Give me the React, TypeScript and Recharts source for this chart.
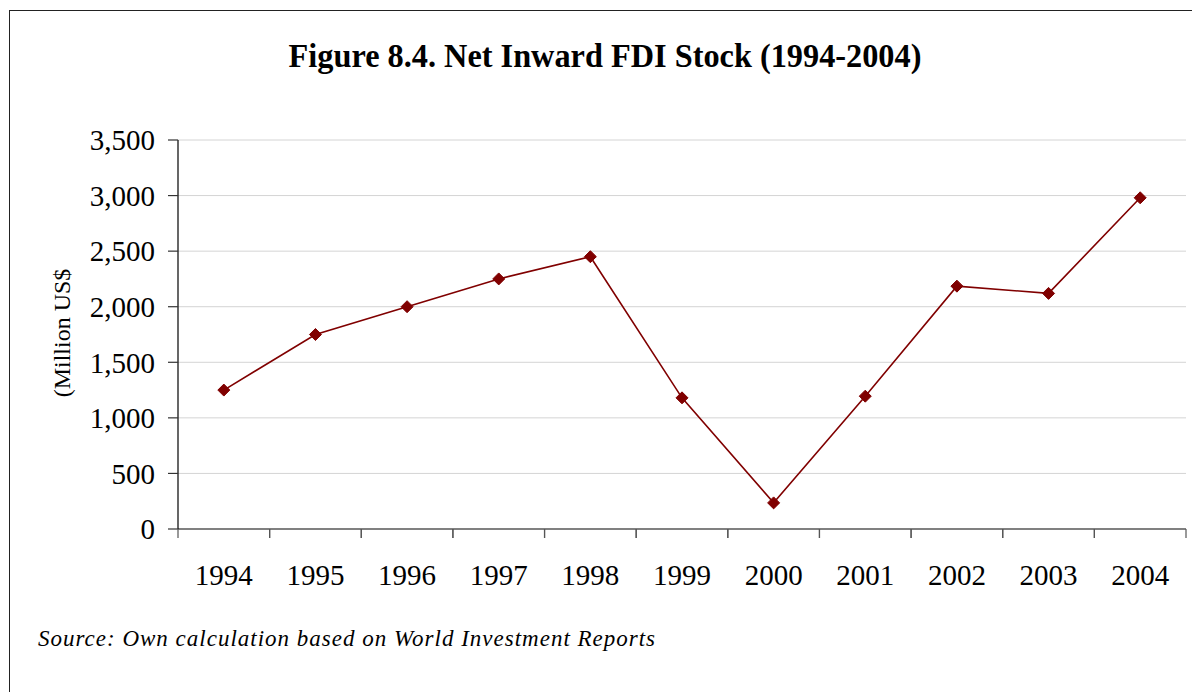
import { LineChart, Line, XAxis, YAxis, CartesianGrid } from "recharts";

const years = ["1994", "1995", "1996", "1997", "1998", "1999", "2000", "2001", "2002", "2003", "2004"];
const fdiStock = [1250, 1750, 2000, 2250, 2450, 1180, 235, 1195, 2185, 2120, 2980];
const yTicks = [0, 500, 1000, 1500, 2000, 2500, 3000, 3500];

const data = years.map((year, i) => ({ year, value: fdiStock[i] }));

const W = 1192;
const H = 692;
const PLOT_LEFT = 178;
const PLOT_RIGHT = 1186;
const PLOT_TOP = 140;
const PLOT_BOTTOM = 529;
const halfBand = (PLOT_RIGHT - PLOT_LEFT) / years.length / 2;

const serif = "'Liberation Serif', 'Times New Roman', serif";
const red = "#800000";

function Diamond(props: any) {
  const { cx, cy, index } = props;
  if (cx == null || cy == null) return null;
  const s = 6;
  return (
    <path
      key={index}
      d={`M${cx},${cy - s} L${cx + s},${cy} L${cx},${cy + s} L${cx - s},${cy} Z`}
      fill={red}
      stroke={red}
    />
  );
}

function XTick(props: any) {
  const { x, y, payload } = props;
  return (
    <g>
      <line x1={x - halfBand} x2={x - halfBand} y1={y} y2={y + 9} stroke="#555" strokeWidth={1.2} />
      <line x1={x + halfBand} x2={x + halfBand} y1={y} y2={y + 9} stroke="#555" strokeWidth={1.2} />
      <text x={x} y={y + 56} textAnchor="middle" fontFamily={serif} fontSize={29} fill="#000">
        {payload.value}
      </text>
    </g>
  );
}

export default function App() {
  return (
    <div
      style={{
        position: "absolute",
        left: 0,
        top: 0,
        width: W,
        height: H,
        overflow: "hidden",
        background: "#fff",
      }}
    >
      <div
        style={{
          position: "absolute",
          left: 9,
          top: 10,
          width: W + 20,
          height: H + 20,
          border: "1.5px solid #222",
        }}
      />
      <div
        style={{
          position: "absolute",
          left: 0,
          width: W + 18,
          top: 37,
          textAlign: "center",
          fontFamily: serif,
          fontWeight: "bold",
          fontSize: 34,
          lineHeight: "normal",
          color: "#000",
          transform: "scaleX(0.95)",
          transformOrigin: "605px 0",
          whiteSpace: "nowrap",
        }}
      >
        Figure 8.4. Net Inward FDI Stock (1994-2004)
      </div>
      <div
        style={{
          position: "absolute",
          left: 62,
          top: 333,
          transform: "translate(-50%, -50%) rotate(-90deg)",
          whiteSpace: "nowrap",
          fontFamily: serif,
          fontSize: 24,
          color: "#000",
        }}
      >
        (Million US$
      </div>
      <div
        style={{
          position: "absolute",
          left: 38,
          top: 626,
          fontFamily: serif,
          fontStyle: "italic",
          fontSize: 23,
          letterSpacing: 1,
          lineHeight: "normal",
          color: "#000",
          whiteSpace: "nowrap",
        }}
      >
        Source: Own calculation based on World Investment Reports
      </div>
      <div style={{ position: "absolute", left: 0, top: 0 }}>
        <LineChart
          width={W}
          height={H}
          data={data}
          margin={{ top: PLOT_TOP, right: W - PLOT_RIGHT, bottom: H - PLOT_BOTTOM - 60, left: 0 }}
        >
          <CartesianGrid horizontal vertical={false} stroke="#d4d4d4" strokeWidth={1} />
          <XAxis
            dataKey="year"
            height={60}
            padding={{ left: halfBand, right: halfBand }}
            axisLine={{ stroke: "#808080", strokeWidth: 2 }}
            tickLine={false}
            tickSize={0}
            tickMargin={0}
            interval={0}
            tick={<XTick />}
          />
          <YAxis
            width={PLOT_LEFT}
            domain={[0, 3500]}
            ticks={yTicks}
            interval={0}
            tickFormatter={(v: number) => v.toLocaleString("en-US")}
            axisLine={{ stroke: "#000", strokeWidth: 1.2 }}
            tickLine={{ stroke: "#333", strokeWidth: 1.2 }}
            tickSize={10}
            tickMargin={13}
            tick={{ fontFamily: serif, fontSize: 29, fill: "#000" }}
          />
          <Line
            type="linear"
            dataKey="value"
            stroke={red}
            strokeWidth={1.6}
            dot={<Diamond />}
            activeDot={false}
            isAnimationActive={false}
          />
        </LineChart>
      </div>
    </div>
  );
}
